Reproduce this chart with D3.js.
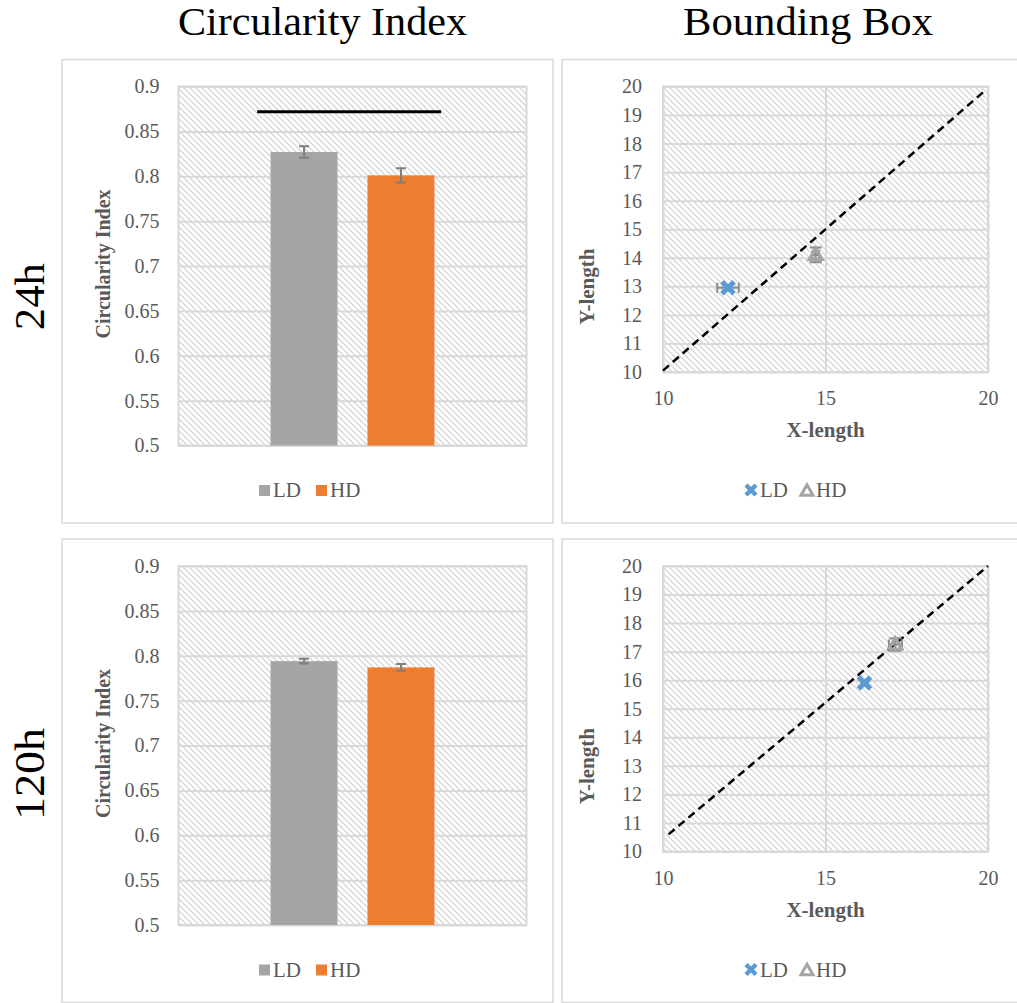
<!DOCTYPE html>
<html><head><meta charset="utf-8">
<script src="https://cdn.jsdelivr.net/npm/d3@7/dist/d3.min.js"></script>
<style>body{margin:0;background:#fff} svg{display:block}</style>
</head><body>
<svg id="chart" width="1017" height="1003"></svg>
<script>
// ---------- data ----------
const barSeries = ["LD", "HD"];
const rowLabels = ["24h", "120h"];
const panelTitles = ["Circularity Index", "Bounding Box"];

const circValues24 = [0.827, 0.801];
const circErr24 = [0.0065, 0.008];
const circValues120 = [0.794, 0.787];
const circErr120 = [0.0026, 0.0037];
const sigBarLevel24 = [0.872];

const circTicks = [0.5, 0.55, 0.6, 0.65, 0.7, 0.75, 0.8, 0.85, 0.9];
const circTickLabels = ["0.5", "0.55", "0.6", "0.65", "0.7", "0.75", "0.8", "0.85", "0.9"];

const bbTicksY = [10, 11, 12, 13, 14, 15, 16, 17, 18, 19, 20];
const bbTicksX = [10, 15, 20];

const bbX24 = [12.0, 14.7];
const bbY24 = [12.95, 14.1];
const bbXErr24 = [0.33, 0.1];
const bbYErr24 = [0.1, 0.26];
const diagX24 = [10, 19.9];
const diagY24 = [10.05, 19.85];

const bbX120 = [16.2, 17.15];
const bbY120 = [15.9, 17.25];
const bbXErr120 = [0.1, 0.2];
const bbYErr120 = [0.1, 0.22];
const diagX120 = [10.17, 20];
const diagY120 = [10.6, 20];

// ---------- styles ----------
const barColors = { LD: "#a5a5a5", HD: "#ed7d31" };
const blue = "#5b9bd5";
const grid = "#d9d9d9";
const txt = "#595959";
const serif = "'Liberation Serif', 'Times New Roman', serif";

const svg = d3.select("#chart");
const defs = svg.append("defs");
const pat = defs.append("pattern").attr("id", "hatch").attr("patternUnits", "userSpaceOnUse")
  .attr("width", 6).attr("height", 6);
pat.append("rect").attr("width", 6).attr("height", 6).attr("fill", "#fff");
pat.append("path").attr("d", "M0,0L6,6M-1,5L1,7M5,-1L7,1")
  .attr("stroke", "#d6d6d6").attr("stroke-width", 1.3);

const rowOff = [0, 479.5];

// panel borders
rowOff.forEach(o => {
  svg.append("rect").attr("x", 62).attr("y", 59.5 + o).attr("width", 491).attr("height", 463.5)
    .attr("fill", "none").attr("stroke", grid).attr("stroke-width", 1.5);
  svg.append("rect").attr("x", 562).attr("y", 59.5 + o).attr("width", 460).attr("height", 463.5)
    .attr("fill", "none").attr("stroke", grid).attr("stroke-width", 1.5);
});

// titles
const titleCfg = [{ x: 322.5, len: 289 }, { x: 808, len: 250 }];
panelTitles.forEach((t, i) => {
  svg.append("text").attr("x", titleCfg[i].x).attr("y", 35).attr("text-anchor", "middle")
    .attr("font-family", serif).attr("font-size", 40).attr("fill", "#000")
    .attr("textLength", titleCfg[i].len).attr("lengthAdjust", "spacingAndGlyphs").text(t);
});
const rowCfg = [{ y: 296.7, len: 67 }, { y: 774, len: 92 }];
rowLabels.forEach((t, i) => {
  svg.append("text").attr("transform", `translate(43.5,${rowCfg[i].y}) rotate(-90)`)
    .attr("text-anchor", "middle").attr("font-family", serif).attr("font-size", 42)
    .attr("fill", "#000").attr("textLength", rowCfg[i].len).attr("lengthAdjust", "spacingAndGlyphs").text(t);
});

// ---------- bar panels ----------
function barPanel(o, values, errs, sig) {
  const L = 178.5, R = 526.5, T = 86.5 + o, B = 445.5 + o;
  const y = d3.scaleLinear().domain([0.5, 0.9]).range([B, T]);
  const x = d3.scaleBand().domain(barSeries).range([L, R]).paddingInner(0.309).paddingOuter(0.95);
  const g = svg.append("g");
  g.append("rect").attr("x", L).attr("y", T).attr("width", R - L).attr("height", B - T).attr("fill", "url(#hatch)");
  const ax = g.append("g").attr("transform", `translate(${L},0)`)
    .call(d3.axisLeft(y).tickValues(circTicks).tickSize(-(R - L)).tickPadding(19)
      .tickFormat((d, i) => circTickLabels[i]));
  ax.select(".domain").remove();
  ax.selectAll("line").attr("stroke", grid).attr("stroke-width", 2);
  ax.selectAll("text").attr("font-family", serif).attr("font-size", 20).attr("fill", txt);
  g.append("rect").attr("x", L).attr("y", T).attr("width", R - L).attr("height", B - T)
    .attr("fill", "none").attr("stroke", grid).attr("stroke-width", 2);
  const bw = x.bandwidth();
  g.selectAll(".bar").data(barSeries).join("rect")
    .attr("x", d => x(d)).attr("width", bw)
    .attr("y", (d, i) => y(values[i])).attr("height", (d, i) => B - y(values[i]))
    .attr("fill", d => barColors[d]);
  barSeries.forEach((d, i) => {
    const cx = x(d) + bw / 2, y1 = y(values[i] + errs[i]), y2 = y(values[i] - errs[i]);
    g.append("path").attr("d", `M${cx},${y1}V${y2}M${cx - 5},${y1}H${cx + 5}M${cx - 5},${y2}H${cx + 5}`)
      .attr("stroke", "#7f7f7f").attr("stroke-width", 2).attr("fill", "none");
  });
  if (sig) {
    g.append("line").attr("x1", x("LD") - 0.2 * bw).attr("x2", x("HD") + 1.1 * bw)
      .attr("y1", y(sig[0])).attr("y2", y(sig[0])).attr("stroke", "#000").attr("stroke-width", 3);
  }
  // axis title
  g.append("text").attr("transform", `translate(110,${264 + o}) rotate(-90)`).attr("text-anchor", "middle")
    .attr("font-family", serif).attr("font-size", 20).attr("font-weight", "bold").attr("fill", txt)
    .text("Circularity Index");
  // legend
  const lx = [259, 316];
  barSeries.forEach((d, i) => {
    g.append("rect").attr("x", lx[i]).attr("y", 485 + o).attr("width", 11).attr("height", 11).attr("fill", barColors[d]);
    g.append("text").attr("x", lx[i] + 14).attr("y", 497 + o).attr("font-family", serif).attr("font-size", 21)
      .attr("fill", txt).text(d);
  });
}
barPanel(rowOff[0], circValues24, circErr24, sigBarLevel24);
barPanel(rowOff[1], circValues120, circErr120, null);

// ---------- scatter panels ----------
function xMarker(g, cx, cy, r, w) {
  g.append("path").attr("d", `M${cx - r},${cy - r}L${cx + r},${cy + r}M${cx - r},${cy + r}L${cx + r},${cy - r}`)
    .attr("stroke", blue).attr("stroke-width", w).attr("fill", "none");
}
function triMarker(g, cx, cy, s, w) {
  const h = s * Math.sqrt(3) / 2;
  g.append("path").attr("d", `M${cx},${cy - h * 0.6}L${cx + s / 2},${cy + h * 0.4}L${cx - s / 2},${cy + h * 0.4}Z`)
    .attr("stroke", "#a5a5a5").attr("stroke-width", w).attr("fill", "none").attr("stroke-linejoin", "miter");
}
function scatterPanel(o, xs, ys, xe, ye, dx, dy) {
  const L = 663, R = 988, T = 86.5 + o, B = 372 + o;
  const x = d3.scaleLinear().domain([10, 20]).range([L, R]);
  const y = d3.scaleLinear().domain([10, 20]).range([B, T]);
  const g = svg.append("g");
  g.append("rect").attr("x", L).attr("y", T).attr("width", R - L).attr("height", B - T).attr("fill", "url(#hatch)");
  const ay = g.append("g").attr("transform", `translate(${L},0)`)
    .call(d3.axisLeft(y).tickValues(bbTicksY).tickSize(-(R - L)).tickPadding(21).tickFormat(d3.format("d")));
  const axb = g.append("g").attr("transform", `translate(0,${B})`)
    .call(d3.axisBottom(x).tickValues(bbTicksX).tickSize(-(B - T)).tickPadding(19).tickFormat(d3.format("d")));
  [ay, axb].forEach(a => {
    a.select(".domain").remove();
    a.selectAll("line").attr("stroke", grid).attr("stroke-width", 2);
    a.selectAll("text").attr("font-family", serif).attr("font-size", 20).attr("fill", txt);
  });
  g.append("rect").attr("x", L).attr("y", T).attr("width", R - L).attr("height", B - T)
    .attr("fill", "none").attr("stroke", grid).attr("stroke-width", 2);
  // diagonal
  g.append("line").attr("x1", x(dx[0])).attr("y1", y(dy[0])).attr("x2", x(dx[1])).attr("y2", y(dy[1]))
    .attr("stroke", "#000").attr("stroke-width", 2.5).attr("stroke-dasharray", "8,5");
  // error bars
  barSeries.forEach((d, i) => {
    const cx = x(xs[i]), cy = y(ys[i]);
    const xa = x(xs[i] - xe[i]), xb = x(xs[i] + xe[i]);
    const ya = y(ys[i] + ye[i]), yb = y(ys[i] - ye[i]);
    g.append("path").attr("d",
      `M${xa},${cy}H${xb}M${xa},${cy - 5}V${cy + 5}M${xb},${cy - 5}V${cy + 5}` +
      `M${cx},${ya}V${yb}M${cx - 6},${ya}H${cx + 6}M${cx - 6},${yb}H${cx + 6}`)
      .attr("stroke", "#8c8c8c").attr("stroke-width", 2).attr("fill", "none");
  });
  // markers
  xMarker(g, x(xs[0]), y(ys[0]), 6, 5);
  triMarker(g, x(xs[1]), y(ys[1]), 13, 3.2);
  // axis titles
  g.append("text").attr("x", (L + R) / 2).attr("y", B + 65).attr("text-anchor", "middle")
    .attr("font-family", serif).attr("font-size", 21).attr("font-weight", "bold").attr("fill", txt).text("X-length");
  g.append("text").attr("transform", `translate(594,${286.7 + o}) rotate(-90)`).attr("text-anchor", "middle")
    .attr("font-family", serif).attr("font-size", 21).attr("font-weight", "bold").attr("fill", txt).text("Y-length");
  // legend
  xMarker(g, 751, 490 + o, 5, 4.5);
  g.append("text").attr("x", 760).attr("y", 497 + o).attr("font-family", serif).attr("font-size", 21).attr("fill", txt).text(barSeries[0]);
  triMarker(g, 807, 491 + o, 12, 3);
  g.append("text").attr("x", 816).attr("y", 497 + o).attr("font-family", serif).attr("font-size", 21).attr("fill", txt).text(barSeries[1]);
}
scatterPanel(rowOff[0], bbX24, bbY24, bbXErr24, bbYErr24, diagX24, diagY24);
scatterPanel(rowOff[1], bbX120, bbY120, bbXErr120, bbYErr120, diagX120, diagY120);
</script>
</body></html>
